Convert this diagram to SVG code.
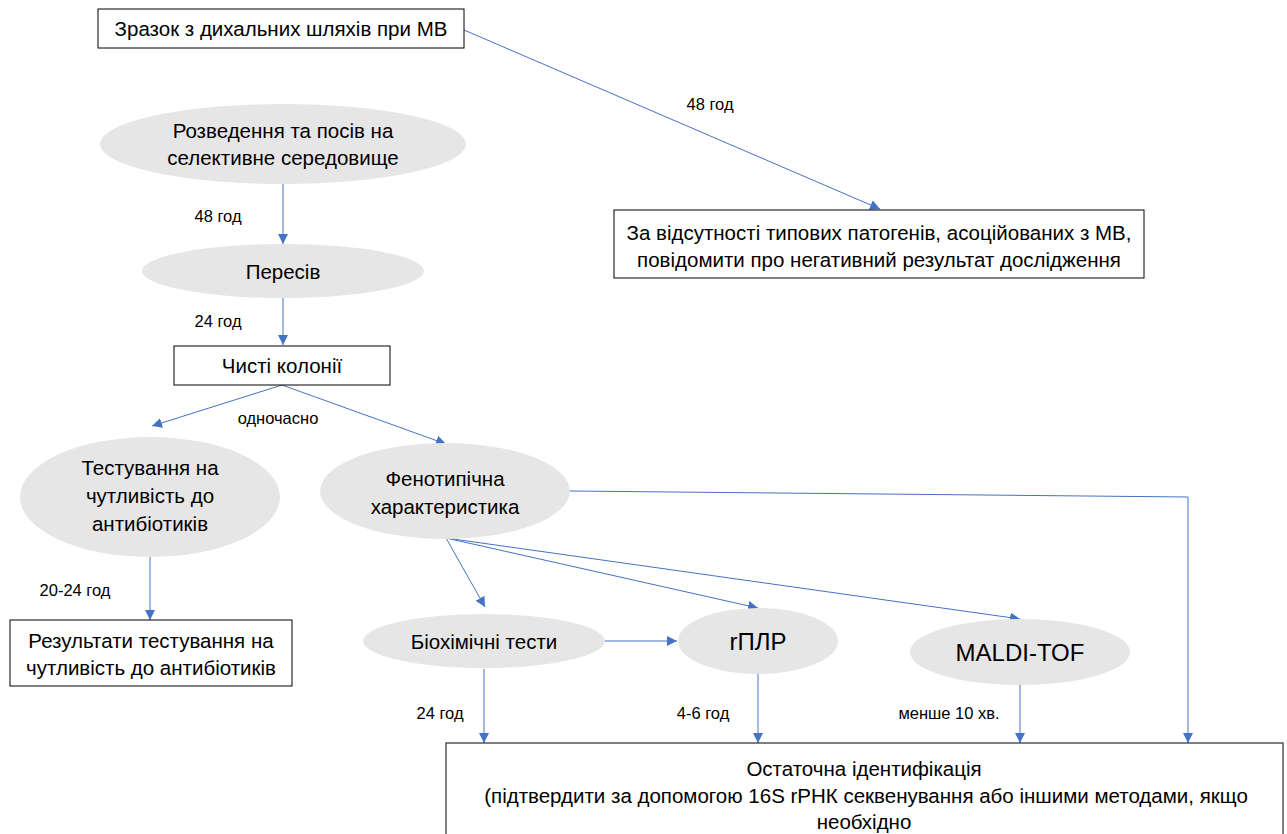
<svg xmlns="http://www.w3.org/2000/svg" width="1287" height="834" viewBox="0 0 1287 834">
<defs>
<marker id="ah" viewBox="0 0 10 10" refX="10" refY="5" markerWidth="10" markerHeight="10" markerUnits="userSpaceOnUse" orient="auto">
<path d="M0,0 L10,5 L0,10 z" fill="#4472C4"/>
</marker>
<style>
.box{fill:#fff;stroke:#000;stroke-width:1}
.ell{fill:#e7e6e6;stroke:none}
.t{font-family:"Liberation Sans",Arial,sans-serif;font-size:20.5px;fill:#000;text-anchor:middle}
.tl{font-family:"Liberation Sans",Arial,sans-serif;font-size:24px;fill:#000;text-anchor:middle}
.lb{font-family:"Liberation Sans",Arial,sans-serif;font-size:16.5px;fill:#000;text-anchor:middle}
.c{fill:none;stroke:#4472C4;stroke-width:1}
</style>
</defs>
<rect width="1287" height="834" fill="#fff"/>
<g id="connectors">
<line class="c" x1="464" y1="30" x2="880" y2="209" marker-end="url(#ah)"/>
<line class="c" x1="283" y1="184" x2="283" y2="244" marker-end="url(#ah)"/>
<line class="c" x1="283" y1="298" x2="283" y2="345" marker-end="url(#ah)"/>
<line class="c" x1="282" y1="385" x2="152" y2="426" marker-end="url(#ah)"/>
<line class="c" x1="282" y1="385" x2="446" y2="444" marker-end="url(#ah)"/>
<polyline class="c" points="570,491 1188,497 1188,743" marker-end="url(#ah)"/>
<line class="c" x1="150" y1="557" x2="150" y2="620" marker-end="url(#ah)"/>
<line class="c" x1="446" y1="538" x2="485" y2="607" marker-end="url(#ah)"/>
<line class="c" x1="446" y1="538" x2="758" y2="608" marker-end="url(#ah)"/>
<line class="c" x1="446" y1="538" x2="1020" y2="619" marker-end="url(#ah)"/>
<line class="c" x1="605" y1="641" x2="677" y2="641" marker-end="url(#ah)"/>
<line class="c" x1="484" y1="669" x2="484" y2="743" marker-end="url(#ah)"/>
<line class="c" x1="758" y1="674" x2="758" y2="743" marker-end="url(#ah)"/>
<line class="c" x1="1020" y1="685" x2="1020" y2="743" marker-end="url(#ah)"/>
<text class="lb" x="710" y="110">48 год</text>
<text class="lb" x="218" y="222">48 год</text>
<text class="lb" x="218" y="327">24 год</text>
<text class="lb" x="278" y="424">одночасно</text>
<text class="lb" x="75" y="596">20-24 год</text>
<text class="lb" x="440" y="719">24 год</text>
<text class="lb" x="703" y="719">4-6 год</text>
<text class="lb" x="949" y="719">менше 10 хв.</text>
</g>
<g id="n-sample">
<rect class="box" x="98" y="9" width="366" height="39"/>
<text class="t" x="281" y="36">Зразок з дихальних шляхів при МВ</text>
</g>
<g id="n-negative">
<rect class="box" x="614" y="210" width="530" height="68"/>
<text class="t" x="879" y="240">За відсутності типових патогенів, асоційованих з МВ,</text>
<text class="t" x="879" y="267">повідомити про негативний результат дослідження</text>
</g>
<g id="n-dilution">
<ellipse class="ell" cx="283" cy="144" rx="183" ry="40"/>
<text class="t" x="283" y="138">Розведення та посів на</text>
<text class="t" x="283" y="165">селективне середовище</text>
</g>
<g id="n-subculture">
<ellipse class="ell" cx="283" cy="271" rx="141" ry="27"/>
<text class="t" x="283" y="279">Пересів</text>
</g>
<g id="n-pure">
<rect class="box" x="174" y="346" width="216" height="39"/>
<text class="t" x="282" y="373">Чисті колонії</text>
</g>
<g id="n-ast">
<ellipse class="ell" cx="150" cy="497" rx="130" ry="60"/>
<text class="t" x="150" y="475">Тестування на</text>
<text class="t" x="150" y="503">чутливість до</text>
<text class="t" x="150" y="531">антибіотиків</text>
</g>
<g id="n-pheno">
<ellipse class="ell" cx="445" cy="491" rx="125" ry="48"/>
<text class="t" x="445" y="486">Фенотипічна</text>
<text class="t" x="445" y="514">характеристика</text>
</g>
<g id="n-astres">
<rect class="box" x="10" y="620" width="282" height="66"/>
<text class="t" x="151" y="648">Результати тестування на</text>
<text class="t" x="151" y="675">чутливість до антибіотиків</text>
</g>
<g id="n-biochem">
<ellipse class="ell" cx="484" cy="641" rx="121" ry="27"/>
<text class="t" x="484" y="649">Біохімічні тести</text>
</g>
<g id="n-pcr">
<ellipse class="ell" cx="758" cy="641" rx="80" ry="33"/>
<text class="tl" x="758" y="650">rПЛР</text>
</g>
<g id="n-maldi">
<ellipse class="ell" cx="1020" cy="652" rx="110" ry="33"/>
<text class="tl" x="1020" y="661">MALDI-TOF</text>
</g>
<g id="n-final">
<rect class="box" x="446" y="743" width="837" height="100"/>
<text class="t" x="864" y="776">Остаточна ідентифікація</text>
<text class="t" x="866" y="803">(підтвердити за допомогою 16S rРНК секвенування або іншими методами, якщо</text>
<text class="t" x="864" y="829">необхідно</text>
</g>
</svg>
